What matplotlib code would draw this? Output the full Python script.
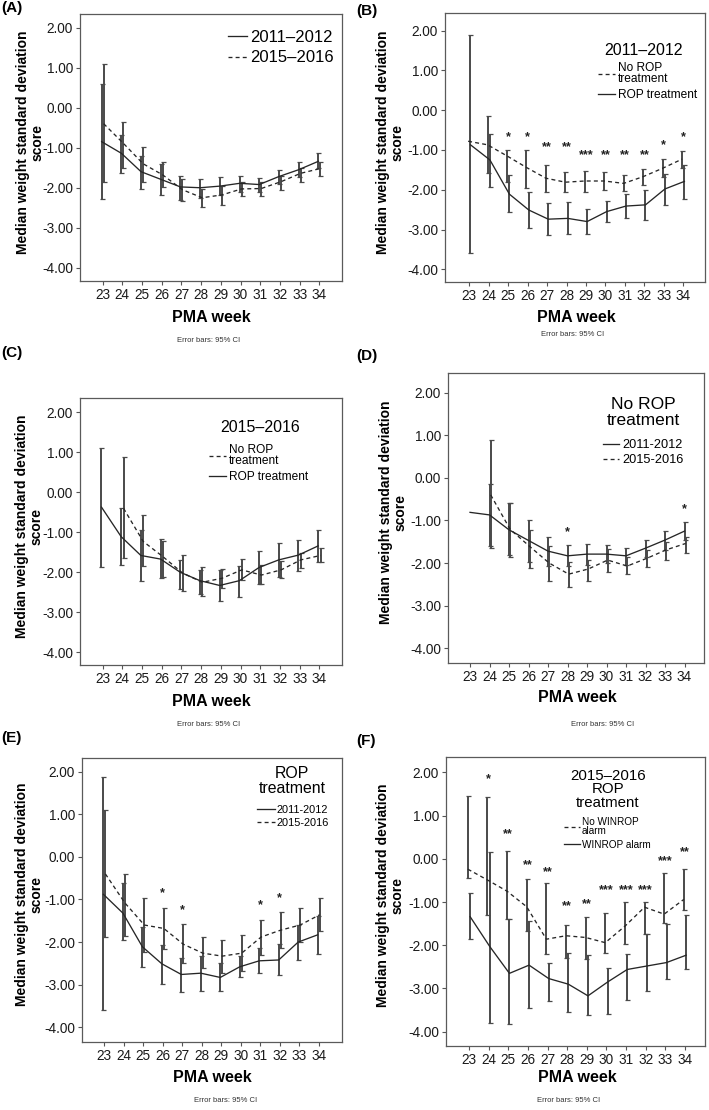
import numpy as np
import matplotlib
matplotlib.use("Agg")
import matplotlib.pyplot as plt

plt.rcParams['font.family'] = ['Liberation Sans', 'DejaVu Sans']

nan = np.nan
weeks = np.arange(23, 35)
week_labels = [str(w) for w in weeks]

# (A) all infants, 2011-2012 vs 2015-2016
a_2011 = [-0.85, -1.14, -1.60, -1.79, -1.98, -2.00, -1.96, -1.89, -1.92, -1.72, -1.55, -1.34]
a_2011_hi = [0.58, -0.68, -1.20, -1.40, -1.70, -1.77, -1.73, -1.70, -1.75, -1.55, -1.35, -1.12]
a_2011_lo = [-2.29, -1.62, -2.02, -2.18, -2.30, -2.25, -2.18, -2.10, -2.10, -1.90, -1.72, -1.50]
a_2015 = [-0.40, -0.89, -1.40, -1.68, -2.05, -2.25, -2.18, -2.03, -2.02, -1.85, -1.64, -1.52]
a_2015_hi = [1.10, -0.35, -0.98, -1.35, -1.78, -2.02, -1.96, -1.85, -1.85, -1.70, -1.50, -1.36]
a_2015_lo = [-1.85, -1.50, -1.85, -1.98, -2.33, -2.48, -2.42, -2.20, -2.20, -2.05, -1.85, -1.70]

# (B) 2011-2012, no ROP treatment vs ROP treatment
b_no = [-0.78, -0.87, -1.15, -1.44, -1.71, -1.81, -1.78, -1.78, -1.84, -1.67, -1.46, -1.23]
b_no_hi = [nan, -0.15, -1.00, -1.00, -1.38, -1.56, -1.52, -1.56, -1.63, -1.48, -1.23, -1.02]
b_no_lo = [nan, -1.57, -1.80, -1.95, -2.06, -2.06, -2.05, -2.01, -2.04, -1.88, -1.69, -1.46]
b_rop = [-0.87, -1.25, -2.11, -2.51, -2.74, -2.72, -2.80, -2.55, -2.41, -2.38, -1.98, -1.79]
b_rop_hi = [1.88, -0.60, -1.63, -2.06, -2.34, -2.31, -2.49, -2.28, -2.10, -2.00, -1.60, -1.38]
b_rop_lo = [-3.58, -1.94, -2.57, -2.95, -3.15, -3.12, -3.12, -2.82, -2.70, -2.76, -2.38, -2.24]
b_stars = ['', '', '*', '*', '**', '**', '***', '**', '**', '**', '*', '*']
b_star_y = [nan, nan, -0.68, -0.68, -0.93, -0.93, -1.12, -1.12, -1.12, -1.12, -0.89, -0.68]

# (C) 2015-2016, no ROP treatment vs ROP treatment
c_no = [nan, -0.40, -1.23, -1.61, -2.02, -2.25, -2.15, -1.94, -2.07, -1.94, -1.69, -1.58]
c_no_hi = [nan, 0.89, -0.57, -1.21, -1.57, -1.86, -1.92, -1.68, -1.82, -1.72, -1.51, -1.40]
c_no_lo = [nan, -1.65, -1.84, -2.11, -2.48, -2.59, -2.40, -2.20, -2.30, -2.14, -1.90, -1.74]
c_rop = [-0.37, -1.11, -1.58, -1.67, -2.00, -2.21, -2.33, -2.21, -1.88, -1.69, -1.57, -1.34]
c_rop_hi = [1.12, -0.38, -0.93, -1.18, -1.69, -1.94, -1.94, -1.84, -1.46, -1.28, -1.19, -0.94]
c_rop_lo = [-1.86, -1.82, -2.23, -2.15, -2.43, -2.55, -2.71, -2.63, -2.30, -2.11, -1.98, -1.74]

# (D) no ROP treatment, 2011-2012 vs 2015-2016
d_2011 = [-0.81, -0.87, -1.22, -1.47, -1.72, -1.83, -1.79, -1.79, -1.83, -1.65, -1.46, -1.25]
d_2011_hi = [nan, -0.15, -0.60, -0.99, -1.38, -1.58, -1.56, -1.58, -1.64, -1.47, -1.24, -1.03]
d_2011_lo = [nan, -1.60, -1.81, -1.97, -2.06, -2.08, -2.05, -2.00, -2.04, -1.85, -1.70, -1.45]
d_2015 = [nan, -0.40, -1.21, -1.61, -2.00, -2.26, -2.14, -1.93, -2.07, -1.89, -1.69, -1.54]
d_2015_hi = [nan, 0.88, -0.60, -1.22, -1.60, -1.97, -1.92, -1.68, -1.85, -1.70, -1.50, -1.38]
d_2015_lo = [nan, -1.65, -1.85, -2.12, -2.42, -2.56, -2.43, -2.20, -2.26, -2.10, -1.92, -1.76]
d_stars = ['', '', '', '', '', '*', '', '', '', '', '', '*']
d_star_y = [nan, nan, nan, nan, nan, -1.28, nan, nan, nan, nan, nan, -0.74]

# (E) ROP treatment, 2011-2012 vs 2015-2016
e_2011 = [-0.88, -1.32, -2.11, -2.51, -2.76, -2.73, -2.83, -2.58, -2.44, -2.42, -2.00, -1.83]
e_2011_hi = [1.88, -0.62, -1.64, -2.06, -2.37, -2.32, -2.50, -2.32, -2.15, -2.05, -1.60, -1.38]
e_2011_lo = [-3.60, -1.96, -2.58, -2.98, -3.18, -3.14, -3.15, -2.83, -2.72, -2.78, -2.42, -2.27]
e_2015 = [-0.40, -1.08, -1.60, -1.68, -2.05, -2.26, -2.33, -2.26, -1.88, -1.72, -1.60, -1.36]
e_2015_hi = [1.10, -0.40, -0.96, -1.19, -1.57, -1.87, -1.95, -1.83, -1.48, -1.30, -1.20, -0.97]
e_2015_lo = [-1.87, -1.85, -2.24, -2.16, -2.48, -2.60, -2.72, -2.68, -2.30, -2.15, -2.00, -1.75]
e_stars = ['', '', '', '*', '*', '', '', '', '*', '*', '', '']
e_star_y = [nan, nan, nan, -0.86, -1.25, nan, nan, nan, -1.13, -0.96, nan, nan]

# (F) 2015-2016 ROP treatment, no WINROP alarm vs WINROP alarm
f_no = [-0.24, -0.49, -0.75, -1.11, -1.86, -1.78, -1.82, -1.94, -1.56, -1.12, -1.28, -0.94]
f_no_hi = [1.45, 1.42, 0.17, -0.47, -0.57, -1.52, -1.34, -1.25, -1.00, -1.00, -0.34, -0.24]
f_no_lo = [-0.44, -1.29, -1.40, -1.67, -2.21, -2.30, -2.32, -2.19, -1.98, -1.73, -1.49, -1.18]
f_al = [-1.34, -2.03, -2.65, -2.46, -2.77, -2.90, -3.17, -2.85, -2.56, -2.48, -2.40, -2.23]
f_al_hi = [-0.78, 0.15, -1.40, -1.43, -2.40, -2.19, -2.23, -2.52, -2.21, -1.74, -1.50, -1.30]
f_al_lo = [-1.86, -3.79, -3.83, -3.45, -3.28, -3.54, -3.61, -3.60, -3.27, -3.05, -2.78, -2.56]
f_stars = ['', '*', '**', '**', '**', '**', '**', '***', '***', '***', '***', '**']
f_star_y = [nan, 1.84, 0.57, -0.15, -0.30, -1.10, -1.06, -0.72, -0.72, -0.72, -0.05, 0.15]

W, H = 709, 1110
fig = plt.figure(figsize=(W / 100, H / 100), dpi=100)

LINE = '#262626'
BAR = '#4a4a4a'
DASH = (0, (3, 2.4))


def px_axes(l, t, r, b):
    return fig.add_axes([l / W, 1 - b / H, (r - l) / W, (b - t) / H])


def draw_series(ax, y, hi, lo, style, shift, label):
    y = np.array(y, float)
    hi = np.array(hi, float)
    lo = np.array(lo, float)
    x = weeks + shift
    ax.errorbar(x, y, yerr=[y - lo, hi - y], fmt='none', ecolor=BAR,
                elinewidth=1.4, capsize=1.8, capthick=0.9, zorder=2)
    ln, = ax.plot(x, y, color=LINE, lw=0.95, linestyle=style, label=label, zorder=3)
    return ln


def setup(ax, xlim, ylim, lx):
    ax.set_xlim(*xlim)
    ax.set_ylim(*ylim)
    ax.set_xticks(weeks)
    ax.set_xticklabels(week_labels)
    ax.set_yticks(np.arange(-4, 3, 1.0))
    ax.set_yticklabels(['%.2f' % v for v in np.arange(-4, 3, 1.0)])
    ax.tick_params(labelsize=9.8, length=3, width=0.8, color='#555555',
                   pad=2, labelcolor='#1a1a1a')
    for s in ax.spines.values():
        s.set_color('#5a5a5a')
        s.set_linewidth(0.9)
    ax.set_ylabel('Median weight standard deviation\nscore', fontsize=10,
                  fontweight='bold', linespacing=1.05, va='center')
    ax.yaxis.set_label_coords(lx, 0.52)


def stars(ax, marks, ys):
    for w, m, yy in zip(weeks, marks, ys):
        if m:
            ax.text(w, yy, m, ha='center', va='center', fontsize=9,
                    fontweight='bold', color='#222222')


def add_legend(ax, handles, x, y, fs, hl, spacing=0.35):
    leg = ax.legend(handles=handles, loc='upper left', bbox_to_anchor=(x, y),
                    frameon=False, fontsize=fs, handlelength=hl, handletextpad=0.2,
                    borderpad=0, borderaxespad=0, labelspacing=spacing)
    for t in leg.get_texts():
        t.set_linespacing(0.9)
    return leg


def panel_text(letter, x, y, xlab, ylab, ex, ey):
    fig.text(x / W, 1 - y / H, letter, fontsize=11, fontweight='bold', va='top')
    fig.text(xlab / W, 1 - ylab / H, 'PMA week', fontsize=11.5, fontweight='bold',
             ha='center', va='center')
    fig.text(ex / W, 1 - ey / H, 'Error bars: 95% CI', fontsize=5.5,
             ha='center', va='center', color='#333333')


# ---- (A)
ax = px_axes(80, 14, 342, 281)
l1 = draw_series(ax, a_2011, a_2011_hi, a_2011_lo, '-', -0.05, '2011–2012')
l2 = draw_series(ax, a_2015, a_2015_hi, a_2015_lo, DASH, 0.05, '2015–2016')
setup(ax, (21.85, 35.15), (-4.33, 2.34), -0.19)
add_legend(ax, [l1, l2], 0.565, 0.94, 12, 1.15, 0.32)
panel_text('(A)', 1, 1, 211, 317, 209, 341)

# ---- (B)
ax = px_axes(445, 13, 705, 282)
l1 = draw_series(ax, b_no, b_no_hi, b_no_lo, DASH, -0.06, 'No ROP\ntreatment')
l2 = draw_series(ax, b_rop, b_rop_hi, b_rop_lo, '-', 0.06, 'ROP treatment')
setup(ax, (21.75, 35.12), (-4.32, 2.445), -0.21)
stars(ax, b_stars, b_star_y)
ax.text(0.762, 0.862, '2011–2012', transform=ax.transAxes, ha='center',
        va='center', fontsize=11.5)
add_legend(ax, [l1, l2], 0.588, 0.818, 8.6, 1.45)
panel_text('(B)', 356, 4, 576, 317, 573, 334)

# ---- (C)
ax = px_axes(80, 398, 342, 665)
l1 = draw_series(ax, c_no, c_no_hi, c_no_lo, DASH, 0.06, 'No ROP\ntreatment')
l2 = draw_series(ax, c_rop, c_rop_hi, c_rop_lo, '-', -0.06, 'ROP treatment')
setup(ax, (21.85, 35.15), (-4.32, 2.36), -0.193)
ax.text(0.687, 0.888, '2015–2016', transform=ax.transAxes, ha='center',
        va='center', fontsize=11.5)
add_legend(ax, [l1, l2], 0.492, 0.828, 8.6, 1.45)
panel_text('(C)', 1, 346, 211, 701, 209, 724)

# ---- (D)
ax = px_axes(448, 373, 704, 663)
l1 = draw_series(ax, d_2011, d_2011_hi, d_2011_lo, '-', 0.0, '2011-2012')
l2 = draw_series(ax, d_2015, d_2015_hi, d_2015_lo, DASH, 0.06, '2015-2016')
setup(ax, (21.87, 35.0), (-4.345, 2.46), -0.215)
stars(ax, d_stars, d_star_y)
ax.text(0.762, 0.864, 'No ROP\ntreatment', transform=ax.transAxes, ha='center',
        va='center', fontsize=12.5, linespacing=1.05)
add_legend(ax, [l1, l2], 0.605, 0.772, 9.2, 1.3, 0.25)
panel_text('(D)', 356, 349, 577, 698, 603, 725)

# ---- (E)
ax = px_axes(82, 758, 342, 1042)
l1 = draw_series(ax, e_2011, e_2011_hi, e_2011_lo, '-', -0.05, '2011-2012')
l2 = draw_series(ax, e_2015, e_2015_hi, e_2015_lo, DASH, 0.05, '2015-2016')
setup(ax, (21.85, 35.2), (-4.345, 2.32), -0.202)
stars(ax, e_stars, e_star_y)
ax.text(0.808, 0.919, 'ROP\ntreatment', transform=ax.transAxes, ha='center',
        va='center', fontsize=11.4, linespacing=1.0)
add_legend(ax, [l1, l2], 0.673, 0.835, 7.9, 1.6, 0.3)
panel_text('(E)', 1, 731, 212, 1078, 226, 1101)

# ---- (F)
ax = px_axes(446, 757, 705, 1046)
l1 = draw_series(ax, f_no, f_no_hi, f_no_lo, DASH, -0.06, 'No WINROP\nalarm')
l2 = draw_series(ax, f_al, f_al_hi, f_al_lo, '-', 0.06, 'WINROP alarm')
setup(ax, (21.83, 35.02), (-4.33, 2.354), -0.214)
stars(ax, f_stars, f_star_y)
ax.text(0.625, 0.888, '2015–2016\nROP\ntreatment', transform=ax.transAxes,
        ha='center', va='center', fontsize=10.8, linespacing=0.98)
add_legend(ax, [l1, l2], 0.456, 0.792, 7.2, 1.6, 0.35)
panel_text('(F)', 356, 734, 577, 1077, 569, 1101)

fig.savefig('out.png', dpi=100, facecolor='white')
